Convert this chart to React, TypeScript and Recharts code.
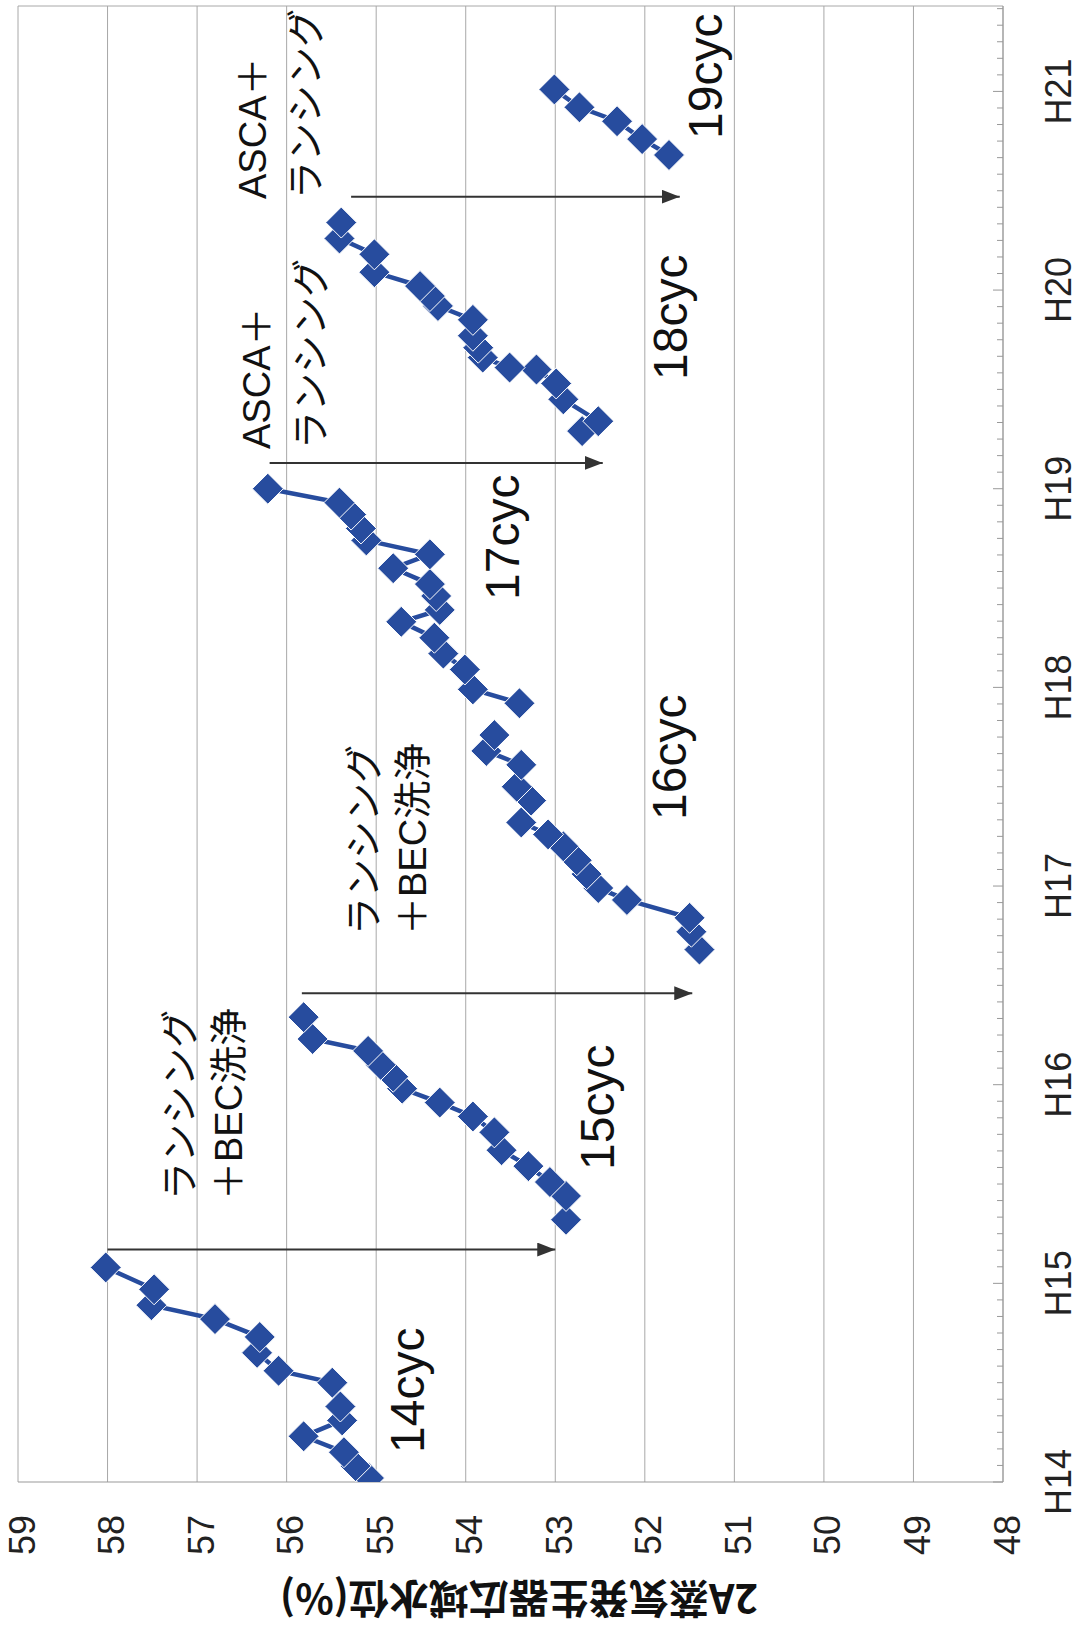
import React from 'react';
import { LineChart, Line, XAxis, YAxis, CartesianGrid, ReferenceLine } from 'recharts';

// water level (%) by time (Heisei year, fractional), one array per cycle
const cycle14 = [
  { t: 14.02, v: 55.08 }, { t: 14.08, v: 55.23 }, { t: 14.15, v: 55.36 }, { t: 14.23, v: 55.81 },
  { t: 14.31, v: 55.38 }, { t: 14.38, v: 55.4 }, { t: 14.5, v: 55.49 }, { t: 14.56, v: 56.09 },
  { t: 14.65, v: 56.33 }, { t: 14.73, v: 56.3 }, { t: 14.82, v: 56.8 }, { t: 14.89, v: 57.51 },
  { t: 14.97, v: 57.48 }, { t: 15.08, v: 58.02 },
];
const cycle15 = [
  { t: 15.32, v: 52.88 }, { t: 15.44, v: 52.88 }, { t: 15.51, v: 53.06 }, { t: 15.59, v: 53.3 },
  { t: 15.67, v: 53.6 }, { t: 15.76, v: 53.68 }, { t: 15.84, v: 53.92 }, { t: 15.91, v: 54.29 },
  { t: 15.98, v: 54.71 }, { t: 16.04, v: 54.81 }, { t: 16.1, v: 54.95 }, { t: 16.17, v: 55.09 },
  { t: 16.23, v: 55.71 }, { t: 16.34, v: 55.81 },
];
const cycle16 = [
  { t: 16.68, v: 51.39 }, { t: 16.77, v: 51.48 }, { t: 16.84, v: 51.5 }, { t: 16.93, v: 52.2 },
  { t: 16.99, v: 52.52 }, { t: 17.06, v: 52.65 }, { t: 17.13, v: 52.76 }, { t: 17.2, v: 52.91 },
  { t: 17.26, v: 53.08 }, { t: 17.32, v: 53.38 }, { t: 17.43, v: 53.27 }, { t: 17.5, v: 53.43 },
  { t: 17.61, v: 53.38 }, { t: 17.68, v: 53.77 }, { t: 17.76, v: 53.68 },
];
const cycle17 = [
  { t: 17.92, v: 53.4 }, { t: 17.99, v: 53.92 }, { t: 18.09, v: 54.01 }, { t: 18.17, v: 54.25 },
  { t: 18.25, v: 54.35 }, { t: 18.33, v: 54.72 }, { t: 18.39, v: 54.29 }, { t: 18.46, v: 54.33 },
  { t: 18.52, v: 54.4 }, { t: 18.6, v: 54.81 }, { t: 18.67, v: 54.4 }, { t: 18.74, v: 55.11 },
  { t: 18.8, v: 55.17 }, { t: 18.87, v: 55.28 }, { t: 18.93, v: 55.41 }, { t: 19.0, v: 56.21 },
];
const cycle18 = [
  { t: 19.29, v: 52.7 }, { t: 19.34, v: 52.52 }, { t: 19.45, v: 52.91 }, { t: 19.53, v: 52.99 },
  { t: 19.6, v: 53.21 }, { t: 19.61, v: 53.51 }, { t: 19.66, v: 53.81 }, { t: 19.71, v: 53.86 },
  { t: 19.77, v: 53.92 }, { t: 19.85, v: 53.92 }, { t: 19.92, v: 54.31 }, { t: 19.97, v: 54.4 },
  { t: 20.02, v: 54.51 }, { t: 20.09, v: 55.02 }, { t: 20.18, v: 55.02 }, { t: 20.26, v: 55.41 },
  { t: 20.34, v: 55.39 },
];
const cycle19 = [
  { t: 20.68, v: 51.73 }, { t: 20.76, v: 52.03 }, { t: 20.85, v: 52.31 }, { t: 20.92, v: 52.73 },
  { t: 21.01, v: 53.01 },
];

// cleaning arrows: time, level at start, level at arrow tip
const arrows = [
  { t: 15.17, from: 58.0, to: 53.0 },
  { t: 16.46, from: 55.83, to: 51.47 },
  { t: 19.13, from: 56.19, to: 52.47 },
  { t: 20.47, from: 55.28, to: 51.61 },
];

const yearTicks = [14, 15, 16, 17, 18, 19, 20, 21];
const yearLabels = ['H14', 'H15', 'H16', 'H17', 'H18', 'H19', 'H20', 'H21'];
const levelTicks = [48, 49, 50, 51, 52, 53, 54, 55, 56, 57, 58, 59];
const yAxisTitle = '2A蒸気発生器広域水位(%)';

const cycleLabels = ['14cyc', '15cyc', '16cyc', '17cyc', '18cyc', '19cyc'];
const workLabels = [
  ['ランシング', '＋BEC洗浄'],
  ['ランシング', '＋BEC洗浄'],
  ['ASCA＋', 'ランシング'],
  ['ASCA＋', 'ランシング'],
];

// monthly minor ticks on the time axis
const monthTicks: number[] = [];
for (let k = 0; k <= 89; k++) monthTicks.push(14 + k / 12);

const BLUE = '#274c9e';
const GRID = '#a8a8a8';
const LATIN = "'Liberation Sans', Arial, 'Noto Sans CJK JP', sans-serif";
const CJK = "'Liberation Sans', 'Noto Sans CJK JP', sans-serif";

const W = 1631;
const H = 1078;

const renderDiamond = (props: any) => {
  const { cx, cy, index } = props;
  if (cx == null || cy == null) return <g key={`n-${index}`} />;
  const r = 15.5;
  return (
    <path
      key={`d-${index}`}
      d={`M${cx},${cy - r}L${cx + r},${cy}L${cx},${cy + r}L${cx - r},${cy}Z`}
      fill={BLUE}
      stroke="#ffffff"
      strokeWidth={1}
    />
  );
};

const YearTick = (props: any) => {
  const { x, y, payload } = props;
  const v = payload.value;
  const major = Math.abs(v - Math.round(v)) < 1e-6;
  const idx = yearTicks.indexOf(Math.round(v));
  return (
    <g>
      <line x1={x} y1={y} x2={x} y2={y - (major ? 10 : 6)} stroke="#999" strokeWidth={1} />
      {major && idx >= 0 && (
        <text x={x} y={y + 55} textAnchor="middle" dominantBaseline="central" fontSize={36} fontFamily={LATIN} fill="#222">
          {yearLabels[idx]}
        </text>
      )}
    </g>
  );
};

const LevelTick = (props: any) => {
  const { x, y, payload } = props;
  return (
    <text x={x - 53} y={y + 4} textAnchor="middle" dominantBaseline="central" fontSize={36} fontFamily={LATIN} fill="#222">
      {payload.value}
    </text>
  );
};

const arrowShape = (p: any) => (
  <line x1={p.x1} y1={p.y1} x2={p.x2} y2={p.y2} stroke="#333" strokeWidth={2} markerEnd="url(#arrowHead)" />
);

const cyclePos = [
  { left: 178, top: 408 },
  { left: 461, top: 598 },
  { left: 811, top: 670 },
  { left: 1031, top: 503 },
  { left: 1251, top: 671 },
  { left: 1492, top: 706 },
];
const workPos = [
  { left: 431, top: 180, gap: 49 },
  { left: 696, top: 364, gap: 49 },
  { left: 1182, top: 257, gap: 54 },
  { left: 1432, top: 253, gap: 53 },
];

export default function App() {
  const series = [cycle14, cycle15, cycle16, cycle17, cycle18, cycle19];
  return (
    <div style={{ position: 'absolute', left: 0, top: 0, width: 1078, height: 1631, background: '#fff', overflow: 'hidden' }}>
      <div
        style={{
          position: 'absolute',
          left: 0,
          top: 0,
          width: W,
          height: H,
          transformOrigin: '0 0',
          transform: `translateY(${W}px) rotate(-90deg)`,
        }}
      >
        <LineChart width={W} height={H} margin={{ top: 18, right: 6, bottom: 0, left: 0 }}>
          <defs>
            <marker id="arrowHead" markerUnits="userSpaceOnUse" markerWidth={18} markerHeight={14} refX={18} refY={7} orient="auto">
              <path d="M0,0 L18,7 L0,14 Z" fill="#333" />
            </marker>
          </defs>
          <CartesianGrid vertical={false} stroke={GRID} />
          <XAxis
            type="number"
            dataKey="t"
            domain={[14, 21.43]}
            ticks={monthTicks}
            interval={0}
            allowDataOverflow
            height={75}
            tickSize={0}
            tickMargin={0}
            tickLine={false}
            axisLine={{ stroke: '#999' }}
            tick={<YearTick />}
          />
          <YAxis
            type="number"
            domain={[48, 59]}
            ticks={levelTicks}
            interval={0}
            width={149}
            tickSize={0}
            tickMargin={0}
            tickLine={false}
            axisLine={{ stroke: '#999' }}
            tick={<LevelTick />}
          />
          <ReferenceLine x={21.43} stroke={GRID} />
          {arrows.map((a, i) => (
            <ReferenceLine
              key={`a-${i}`}
              segment={[{ x: a.t, y: a.from }, { x: a.t, y: a.to }]}
              stroke="#333"
              shape={arrowShape}
            />
          ))}
          {series.map((d, i) => (
            <Line
              key={`s-${i}`}
              data={d}
              dataKey="v"
              type="linear"
              stroke={BLUE}
              strokeWidth={4.5}
              dot={renderDiamond}
              activeDot={false}
              isAnimationActive={false}
            />
          ))}
        </LineChart>

        <div
          style={{
            position: 'absolute',
            left: 30,
            top: 519,
            transform: 'translate(-50%, -50%) rotate(-90deg)',
            whiteSpace: 'nowrap',
            fontSize: 40,
            fontWeight: 700,
            fontFamily: "'Noto Sans CJK JP', sans-serif",
            color: '#111',
          }}
        >
          {yAxisTitle}
        </div>

        {cycleLabels.map((c, i) => (
          <div
            key={c}
            style={{
              position: 'absolute',
              left: cyclePos[i].left,
              top: cyclePos[i].top - 24,
              fontSize: 48,
              lineHeight: '48px',
              fontFamily: LATIN,
              color: '#111',
              whiteSpace: 'nowrap',
            }}
          >
            {c}
          </div>
        ))}

        {workLabels.map((lines, i) => (
          <div
            key={`w-${i}`}
            style={{
              position: 'absolute',
              left: workPos[i].left,
              top: workPos[i].top - workPos[i].gap / 2,
              fontSize: 38,
              lineHeight: `${workPos[i].gap}px`,
              fontFamily: CJK,
              color: '#111',
              whiteSpace: 'nowrap',
            }}
          >
            {lines.map((l, j) => (
              <div key={j}>{l}</div>
            ))}
          </div>
        ))}
      </div>
    </div>
  );
}
